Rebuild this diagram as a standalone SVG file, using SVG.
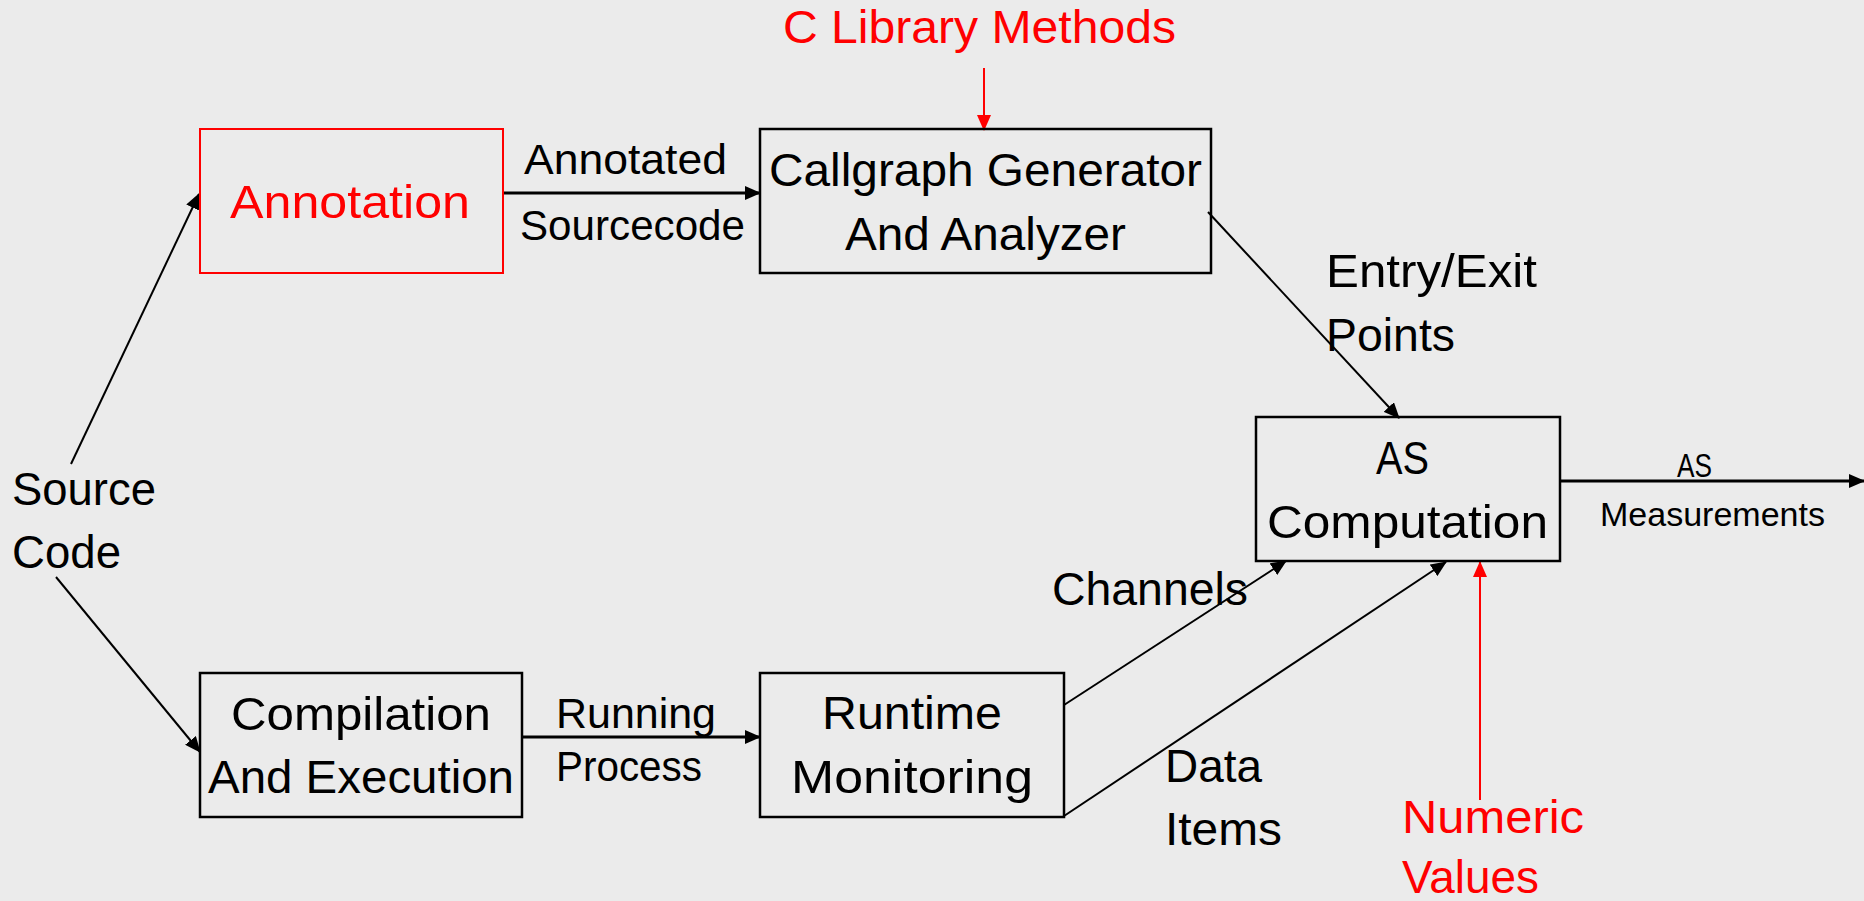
<svg xmlns="http://www.w3.org/2000/svg" width="1864" height="901" viewBox="0 0 1864 901">
<style>
text{font-family:"Liberation Sans",Arial,sans-serif;fill:#000}
.n{font-size:47px}
.l{font-size:43px}
.s{font-size:33px}
.red{fill:#ff0000}
.box{fill:none;stroke:#000;stroke-width:2.5}
.rbox{fill:none;stroke:#ff0000;stroke-width:2}
.c{fill:none;stroke:#000;stroke-width:2;marker-end:url(#ah)}
.ct{fill:none;stroke:#000;stroke-width:3;marker-end:url(#ah)}
.cr{fill:none;stroke:#ff0000;stroke-width:2;marker-end:url(#ahr)}
</style>
<defs>
<marker id="ah" markerUnits="userSpaceOnUse" markerWidth="16" markerHeight="14" refX="15" refY="7" orient="auto"><path d="M0,0 L16,7 L0,14 z" fill="#000"/></marker>
<marker id="ahr" markerUnits="userSpaceOnUse" markerWidth="16" markerHeight="14" refX="15" refY="7" orient="auto"><path d="M0,0 L16,7 L0,14 z" fill="#ff0000"/></marker>
</defs>
<rect x="0" y="0" width="1864" height="901" fill="#ebebeb"/>
<g id="connectors">
<line class="c" x1="71" y1="464" x2="199" y2="194"/>
<line class="c" x1="56" y1="577" x2="200" y2="752"/>
<line class="ct" x1="503" y1="193" x2="760" y2="193"/>
<line class="cr" x1="984" y1="68" x2="984" y2="130"/>
<line class="c" x1="1208" y1="212" x2="1399" y2="418"/>
<line class="ct" x1="522" y1="737" x2="760" y2="737"/>
<line class="c" x1="1064" y1="705" x2="1286" y2="561"/>
<line class="c" x1="1064" y1="816" x2="1446" y2="562"/>
<line class="cr" x1="1480" y1="800" x2="1480" y2="562"/>
<line class="ct" x1="1560" y1="481" x2="1864" y2="481"/>
</g>
<g id="source-code">
<text class="n" x="12" y="505" textLength="144" lengthAdjust="spacingAndGlyphs">Source</text>
<text class="n" x="12" y="568" textLength="109" lengthAdjust="spacingAndGlyphs">Code</text>
</g>
<g id="c-library">
<text class="n red" x="783" y="43" textLength="393" lengthAdjust="spacingAndGlyphs">C Library Methods</text>
</g>
<g id="annotation">
<rect class="rbox" x="200" y="129" width="303" height="144"/>
<text class="n red" x="230" y="218" textLength="240" lengthAdjust="spacingAndGlyphs">Annotation</text>
</g>
<g id="callgraph">
<rect class="box" x="760" y="129" width="451" height="144"/>
<text class="n" x="769" y="186" textLength="433" lengthAdjust="spacingAndGlyphs">Callgraph Generator</text>
<text class="n" x="845" y="250" textLength="281" lengthAdjust="spacingAndGlyphs">And Analyzer</text>
</g>
<g id="as-computation">
<rect class="box" x="1256" y="417" width="304" height="144"/>
<text class="n" x="1376" y="474" textLength="53" lengthAdjust="spacingAndGlyphs">AS</text>
<text class="n" x="1267" y="538" textLength="281" lengthAdjust="spacingAndGlyphs">Computation</text>
</g>
<g id="compilation">
<rect class="box" x="200" y="673" width="322" height="144"/>
<text class="n" x="231" y="730" textLength="260" lengthAdjust="spacingAndGlyphs">Compilation</text>
<text class="n" x="208" y="793" textLength="306" lengthAdjust="spacingAndGlyphs">And Execution</text>
</g>
<g id="runtime">
<rect class="box" x="760" y="673" width="304" height="144"/>
<text class="n" x="822" y="729" textLength="180" lengthAdjust="spacingAndGlyphs">Runtime</text>
<text class="n" x="791" y="793" textLength="242" lengthAdjust="spacingAndGlyphs">Monitoring</text>
</g>
<g id="numeric-values">
<text class="n red" x="1402" y="833" textLength="182" lengthAdjust="spacingAndGlyphs">Numeric</text>
<text class="n red" x="1402" y="893" textLength="137" lengthAdjust="spacingAndGlyphs">Values</text>
</g>
<g id="labels">
<text class="l" x="524" y="174" textLength="203" lengthAdjust="spacingAndGlyphs">Annotated</text>
<text class="l" x="520" y="240" textLength="225" lengthAdjust="spacingAndGlyphs">Sourcecode</text>
<text class="n" x="1326" y="287" textLength="211" lengthAdjust="spacingAndGlyphs">Entry/Exit</text>
<text class="n" x="1326" y="351" textLength="129" lengthAdjust="spacingAndGlyphs">Points</text>
<text class="s" x="1677" y="477" textLength="35" lengthAdjust="spacingAndGlyphs">AS</text>
<text class="s" x="1600" y="526" textLength="225" lengthAdjust="spacingAndGlyphs">Measurements</text>
<text class="n" x="1052" y="605" textLength="196" lengthAdjust="spacingAndGlyphs">Channels</text>
<text class="n" x="1165" y="782" textLength="97" lengthAdjust="spacingAndGlyphs">Data</text>
<text class="n" x="1165" y="845" textLength="117" lengthAdjust="spacingAndGlyphs">Items</text>
<text class="l" x="556" y="728" textLength="160" lengthAdjust="spacingAndGlyphs">Running</text>
<text class="l" x="556" y="781" textLength="146" lengthAdjust="spacingAndGlyphs">Process</text>
</g>
</svg>
